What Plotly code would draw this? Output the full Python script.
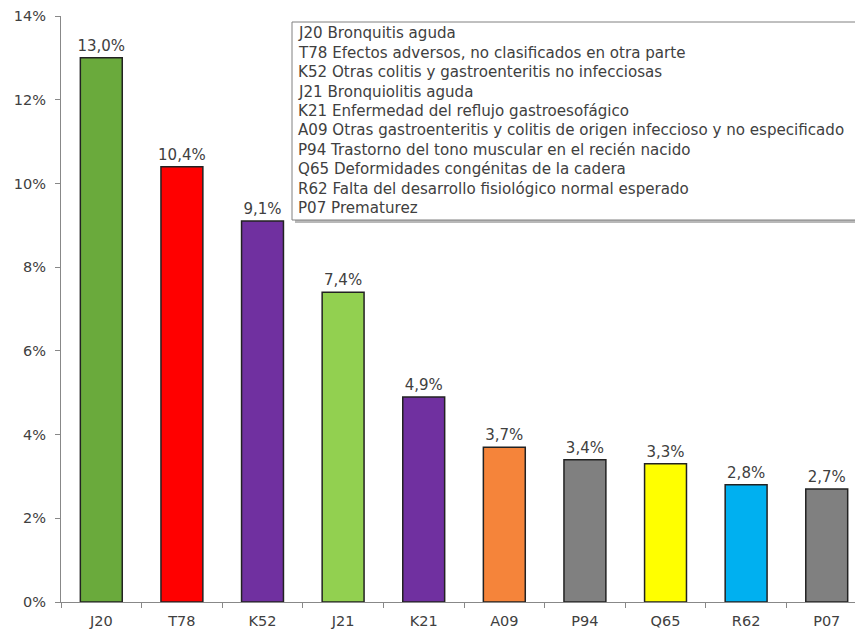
import plotly.graph_objects as go

categories = ["J20", "T78", "K52", "J21", "K21", "A09", "P94", "Q65", "R62", "P07"]
values = [13.0, 10.4, 9.1, 7.4, 4.9, 3.7, 3.4, 3.3, 2.8, 2.7]
bar_colors = ["#6aaa3c", "#ff0000", "#7030a0", "#92d050", "#7030a0",
              "#f5843a", "#808080", "#ffff00", "#00b0f0", "#808080"]
legend_lines = [
    "J20 Bronquitis aguda",
    "T78 Efectos adversos, no clasificados en otra parte",
    "K52 Otras colitis y gastroenteritis no infecciosas",
    "J21 Bronquiolitis aguda",
    "K21 Enfermedad del reflujo gastroesofágico",
    "A09 Otras gastroenteritis y colitis de origen infeccioso y no especificado",
    "P94 Trastorno del tono muscular en el recién nacido",
    "Q65 Deformidades congénitas de la cadera",
    "R62 Falta del desarrollo fisiológico normal esperado",
    "P07 Prematurez",
]
y_ticks = [0, 2, 4, 6, 8, 10, 12, 14]

FONT = "DejaVu Sans"
TXT = "#404040"

fig = go.Figure()
fig.add_trace(go.Bar(
    x=categories, y=values,
    marker=dict(color=bar_colors, line=dict(color="#222222", width=1.5)),
    width=0.52,
    text=values,
    texttemplate="%{y:.1f}%",
    textposition="outside",
    constraintext="none",
    textfont=dict(family=FONT, size=15, color=TXT),
    cliponaxis=False,
))

# page is offset by the default 8px body margin
OFF = 8
W, H = 863 - OFF, 633 - OFF
ml, mr, mt, mb = 61 - OFF, 0, 16 - OFF, 31
pw = W - ml - mr
ph = H - mt - mb

def px(xp):
    return (xp - 61) / pw

def py(yp):
    return 1 - (yp - 16) / ph

fig.update_layout(
    width=W, height=H,
    margin=dict(l=ml, r=mr, t=mt, b=mb, pad=0),
    plot_bgcolor="white", paper_bgcolor="white",
    separators=",.",
    showlegend=False,
    font=dict(family=FONT, size=14, color=TXT),
)
fig.update_xaxes(
    range=[-0.5, 9.45],
    showline=True, linecolor="#888888", linewidth=1.2,
    ticks="outside", tickson="boundaries", ticklen=5, tickcolor="#888888",
    showgrid=False, zeroline=False, ticklabelstandoff=5,
    tickfont=dict(family=FONT, size=14.5, color=TXT),
)
fig.update_yaxes(
    range=[0, 14],
    tickvals=y_ticks, ticktext=[f"{v}%" for v in y_ticks],
    showline=True, linecolor="#888888", linewidth=1.2,
    ticks="outside", ticklen=5, tickcolor="#888888",
    showgrid=False, zeroline=False,
    ticklabelstandoff=6, ticklabeloverflow="allow",
    tickfont=dict(family=FONT, size=14.5, color=TXT),
)

# legend text box
fig.add_shape(type="rect", xref="paper", yref="paper",
              x0=px(295), x1=1.02, y0=py(223), y1=py(25),
              line=dict(width=0), fillcolor="#b8b8b8", layer="above")
fig.add_shape(type="rect", xref="paper", yref="paper",
              x0=px(292), x1=1.02, y0=py(220), y1=py(22),
              line=dict(color="#808080", width=1), fillcolor="white", layer="above")
for i, line in enumerate(legend_lines):
    fig.add_annotation(
        xref="paper", yref="paper",
        x=px(296), y=py(33.5 + i * 19.4),
        xanchor="left", yanchor="middle",
        text=line, showarrow=False, align="left",
        font=dict(family=FONT, size=15.1, color=TXT),
    )

fig.write_html("out.html")
